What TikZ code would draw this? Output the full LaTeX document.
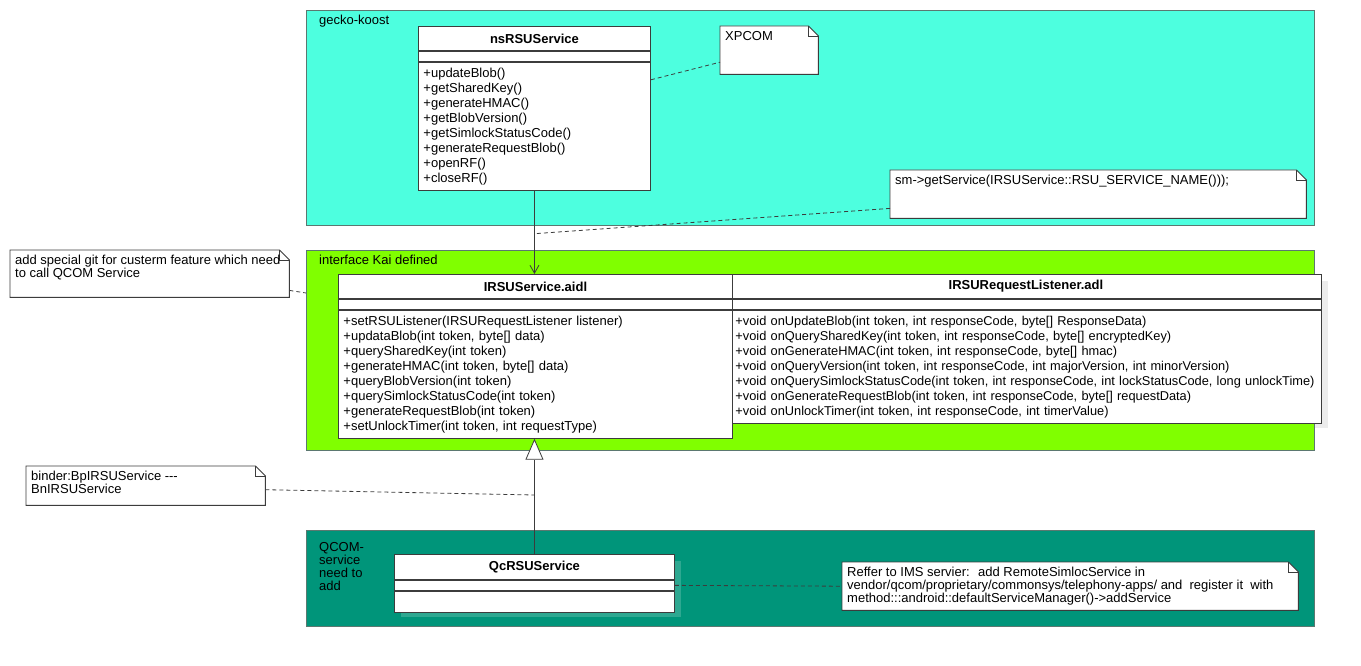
\documentclass[tikz,border=0pt]{standalone}
\usepackage{fontspec}
\setmainfont{Liberation Sans}
\usetikzlibrary{arrows.meta,positioning}
\definecolor{gecko}{HTML}{4DFFDF}
\definecolor{kai}{HTML}{80FF00}
\definecolor{qcom}{HTML}{00957A}
\definecolor{rim}{HTML}{5B7870}
\definecolor{ink}{HTML}{3C3C3C}
\definecolor{haze}{HTML}{ECECEC}
\newcommand\umlfont{\fontsize{13pt}{15pt}\selectfont}
\newcommand\notefont{\fontsize{13pt}{13pt}\selectfont}
\tikzset{pane/.style={draw=rim,line width=.9pt,minimum width=1008pt,anchor=north west,inner sep=0pt},
 tag/.style={anchor=north west,inner sep=0pt,align=left,font=\notefont},
 classhead/.style={draw=ink,fill=white,line width=.9pt,minimum height=24pt,inner sep=0pt,font=\umlfont\bfseries},
 classsec/.style={draw=ink,fill=white,line width=.9pt,minimum height=10pt,inner sep=0pt},
 classops/.style={draw=ink,fill=white,line width=.9pt,inner xsep=5pt,inner ysep=0pt,align=left,font=\umlfont},
 notebox/.style={inner sep=0pt,anchor=north west},
 notetxt/.style={anchor=north west,inner xsep=5pt,inner ysep=5pt,align=left,font=\notefont},
 dep/.style={-{Straight Barb[length=8pt,width=9pt]},draw=ink,line width=.8pt},
 gen/.style={-{Triangle[open,fill=white,length=21pt,width=18pt]},draw=ink,line width=.8pt},
 link/.style={draw=ink,line width=.8pt,dash pattern=on 4pt off 3pt}}
\newcommand\foldnote[1]{%
 \draw[draw=ink,fill=white,line width=.9pt] (#1.north west) -- ([xshift=-10pt]#1.north east)
  -- ([yshift=-10pt]#1.north east) -- (#1.south east) -- (#1.south west) -- cycle;
 \draw[draw=ink,line width=.9pt] ([xshift=-10pt]#1.north east) |- ([yshift=-10pt]#1.north east);}
\begin{document}
\begin{tikzpicture}[x=1pt,y=-1pt]
\useasboundingbox (0,0) rectangle (1361,666);
% containers
\fill[haze] (737,281) rectangle (1328,428);
\node[pane,fill=gecko,minimum height=215pt] (gecko) at (306,10) {};
\node[tag] (geckotag) at (319,15) {gecko-koost};
\node[pane,fill=kai,minimum height=200pt] (kai) at (306,250) {};
\node[tag] (kaitag) at (319,255) {interface Kai defined};
\node[pane,fill=qcom,minimum height=96pt] (qcomp) at (306,530) {};
\node[tag] (qcomtag) at (319,542) {QCOM-\\service\\need to\\add};
\fill[white,opacity=.18] (401,561) rectangle (681,617);
% classes
\node[classhead,minimum width=232pt,anchor=north west] (ns) at (418,26) {nsRSUService};
\node[classsec,minimum width=232pt,below=0pt of ns] (nssec) {};
\node[classops,text width=222pt,minimum height=128pt,below=0pt of nssec] (nsops) {+updateBlob()\\+getSharedKey()\\+generateHMAC()\\+getBlobVersion()\\+getSimlockStatusCode()\\+generateRequestBlob()\\+openRF()\\+closeRF()};
\node[classhead,minimum width=591pt,anchor=north west] (lsn) at (730,274) {IRSURequestListener.adl};
\node[classsec,minimum width=591pt,below=0pt of lsn] (lsnsec) {};
\node[classops,text width=581pt,minimum height=113pt,font=\fontsize{12.8pt}{15pt}\selectfont,below=0pt of lsnsec] (lsnops) {+void onUpdateBlob(int token, int responseCode, byte[] ResponseData)\\+void onQuerySharedKey(int token, int responseCode, byte[] encryptedKey)\\+void onGenerateHMAC(int token, int responseCode, byte[] hmac)\\+void onQueryVersion(int token, int responseCode, int majorVersion, int minorVersion)\\\mbox{+void onQuerySimlockStatusCode(int token, int responseCode, int lockStatusCode, long unlockTime)}\\+void onGenerateRequestBlob(int token, int responseCode, byte[] requestData)\\+void onUnlockTimer(int token, int responseCode, int timerValue)};
\node[classhead,minimum width=394pt,anchor=north west] (irsu) at (338,274) {IRSUService.aidl};
\node[classsec,minimum width=394pt,below=0pt of irsu] (irsusec) {};
\node[classops,text width=384pt,minimum height=128pt,below=0pt of irsusec] (irsuops) {+setRSUListener(IRSURequestListener listener)\\+updataBlob(int token, byte[] data)\\+querySharedKey(int token)\\+generateHMAC(int token, byte[] data)\\+queryBlobVersion(int token)\\+querySimlockStatusCode(int token)\\+generateRequestBlob(int token)\\+setUnlockTimer(int token, int requestType)};
\node[classhead,minimum width=280pt,minimum height=25pt,anchor=north west] (qc) at (394,554) {QcRSUService};
\node[classsec,minimum width=280pt,below=0pt of qc] (qcsec) {};
\node[classops,text width=270pt,minimum height=21pt,below=0pt of qcsec] (qcops) {};
% notes
\node[notebox,minimum width=98pt,minimum height=48pt] (xpcom) at (720,26) {};
\foldnote{xpcom}
\node[notetxt] (xpcomtxt) at (xpcom.north west) {XPCOM};
\node[notebox,minimum width=416pt,minimum height=48pt] (smnote) at (890,170) {};
\foldnote{smnote}
\node[notetxt] (smtxt) at (smnote.north west) {sm->getService(IRSUService::RSU\_SERVICE\_NAME()));};
\node[notebox,minimum width=279pt,minimum height=47pt] (gitnote) at (10,250) {};
\foldnote{gitnote}
\node[notetxt] (gittxt) at (gitnote.north west) {add special git for custerm feature which need\\to call QCOM Service};
\node[notebox,minimum width=239pt,minimum height=39pt] (binder) at (26,466) {};
\foldnote{binder}
\node[notetxt] (bindertxt) at (binder.north west) {binder:BpIRSUService -{}-{}-\\BnIRSUService};
\node[notebox,minimum width=456pt,minimum height=48pt] (reffer) at (842,562) {};
\foldnote{reffer}
\node[notetxt] (reffertxt) at (reffer.north west) {Reffer to IMS servier:~ add RemoteSimlocService in\\vendor/qcom/proprietary/commonsys/telephony-apps/ and~ register it~ with\\method:::android::defaultServiceManager()->addService};
% connectors
\coordinate (smtap) at ([yshift=-43pt]nsops.south);
\coordinate (bindertap) at ([yshift=59pt]qc.north);
\draw[dep] (nsops.south) -- (nsops.south |- irsu.north);
\draw[gen] (qc.north) -- (qc.north |- irsuops.south);
\draw[link] ([yshift=-18pt]nsops.north east) -- ([yshift=-12pt]xpcom.west);
\draw[link] ([yshift=10pt]smnote.south west) -- (smtap);
\draw[link] ([yshift=7pt]gitnote.south east) -- ([yshift=-43pt]kai.north west);
\draw[link] ([yshift=-4pt]binder.east) -- (bindertap);
\draw[link] (qcsec.east) -- (reffer.west);
\end{tikzpicture}
\end{document}
